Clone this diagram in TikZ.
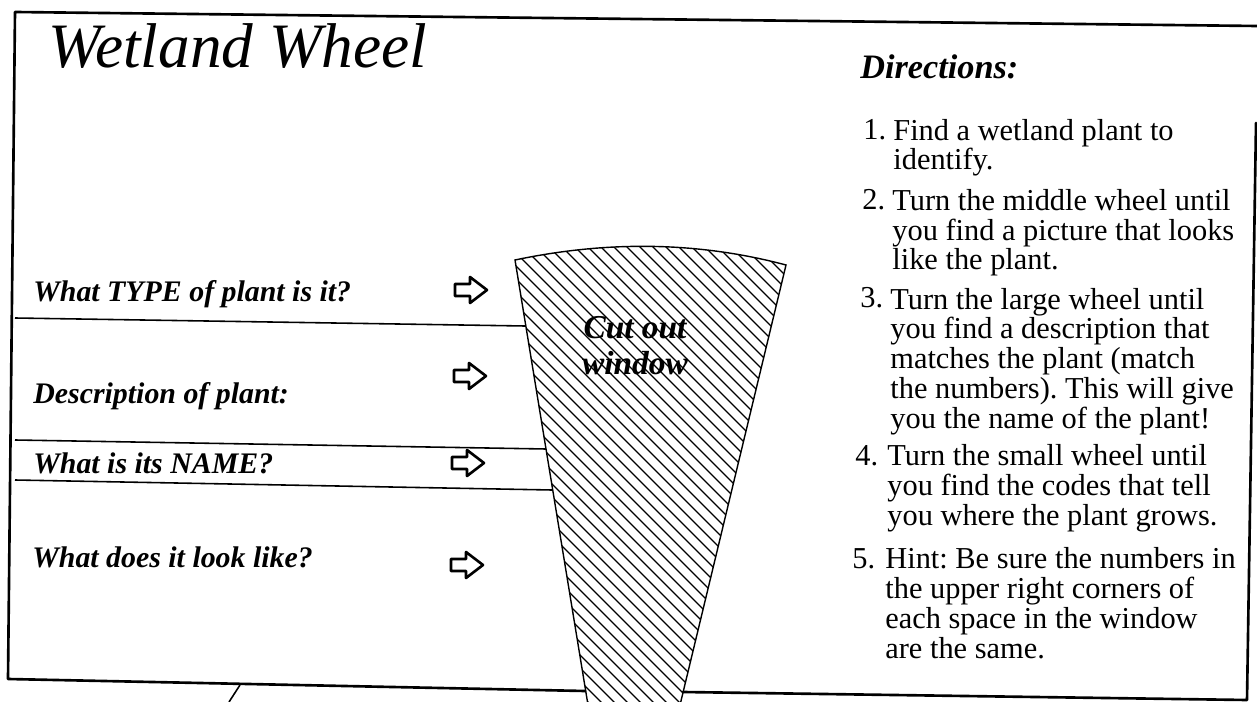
\documentclass[tikz,border=0pt]{standalone}
\usepackage{fontspec}
\setmainfont{Liberation Serif}
\usetikzlibrary{calc}
\frenchspacing
\tikzset{
    frame/.style={line width=1.5pt, line cap=round, line join=round},
    rule/.style={line width=0.9pt},
    win/.style={line width=0.8pt},
    hatch/.style={line width=0.7pt},
    question/.style={font=\bfseries\itshape\fontsize{17}{20}\selectfont,
                anchor=base west, inner sep=0pt},
    dir/.style={font=\fontsize{17.3}{16.9}\selectfont, align=left,
                anchor=base west, inner sep=0pt},
    num/.style={dir},
    pics/fatarrow/.style={code={
        \draw[line width=1.5pt, line join=round]
            (-16,-6) -- (-1,-6) -- (-1,-13) -- (16,0) -- (-1,13) -- (-1,6) -- (-16,6) -- cycle;}},
}

\begin{document}
\begin{tikzpicture}[x=0.02cm, y=-0.02cm]
\useasboundingbox (0,0) rectangle (1257,702);

% outer frame
\draw[frame] (1257,26) -- (15,12) -- (8,679) -- (585,691);
\draw[frame] (683,692) -- (1247,700) -- (1256,123);
\draw[rule] (240,685) -- (229,702);

\node[font=\itshape\fontsize{36}{40}\selectfont, anchor=base west, inner sep=0pt]
    (title) at (48,68) {Wetland Wheel};

% questions on the left
\draw[rule] (15,318) -- (525,326);
\draw[rule] (15,440) -- (546,449);
\draw[rule] (15,480) -- (552,490);
\node[question] (qtype) at (33,302) {What TYPE of plant is it?};
\node[question] (qdesc) at (33,403) {Description of plant:};
\node[question] (qname) at (33,473) {What is its NAME?};
\node[question] (qlook) at (32,567) {What does it look like?};
\pic at (471,290) {fatarrow};
\pic at (470,376) {fatarrow};
\pic at (468,463) {fatarrow};
\pic at (467,565) {fatarrow};

% cut out window
\coordinate (wl) at (515,260);
\coordinate (wr) at (786,265);
\coordinate (bl) at (588,705);
\coordinate (br) at (680,705);
\begin{scope}
  \clip (bl) -- (wl) .. controls (605,241) and (696,241) .. (wr) -- (br) -- cycle;
  \foreach \k in {-36,...,25}{\draw[hatch] ({450+\k*13},200) -- ++(560,560);}
\end{scope}
\draw[win] (bl) -- (wl) .. controls (605,241) and (696,241) .. (wr) -- (br);
\node[font=\bfseries\itshape\fontsize{19}{21}\selectfont, align=center, anchor=base, inner sep=0pt]
    (cut) at (635,375) {Cut out\\window};

% directions (base anchor = last line)
\node[font=\bfseries\itshape\fontsize{19.5}{22}\selectfont, anchor=base west, inner sep=0pt]
    (dhead) at (860,79) {Directions:};
\node[num] (n1) at (863,140) {1.};
\node[dir] (d1) at (893,170) {Find a wetland plant to\\identify.};
\node[num] (n2) at (862,210) {2.};
\node[dir] (d2) at (892,270) {Turn the middle wheel until\\you find a picture that looks\\like the plant.};
\node[num] (n3) at (860,308) {3.};
\node[dir] (d3) at (890,428) {Turn the large wheel until\\you find a description that\\matches the plant (match\\the numbers). This will give\\you the name of the plant!};
\node[num] (n4) at (855,465) {4.};
\node[dir] (d4) at (887,525) {Turn the small wheel until\\you find the codes that tell\\you where the plant grows.};
\node[num] (n5) at (852,568) {5.};
\node[dir] (d5) at (885,658) {Hint: Be sure the numbers in\\the upper right corners of\\each space in the window\\are the same.};

\end{tikzpicture}
\end{document}
